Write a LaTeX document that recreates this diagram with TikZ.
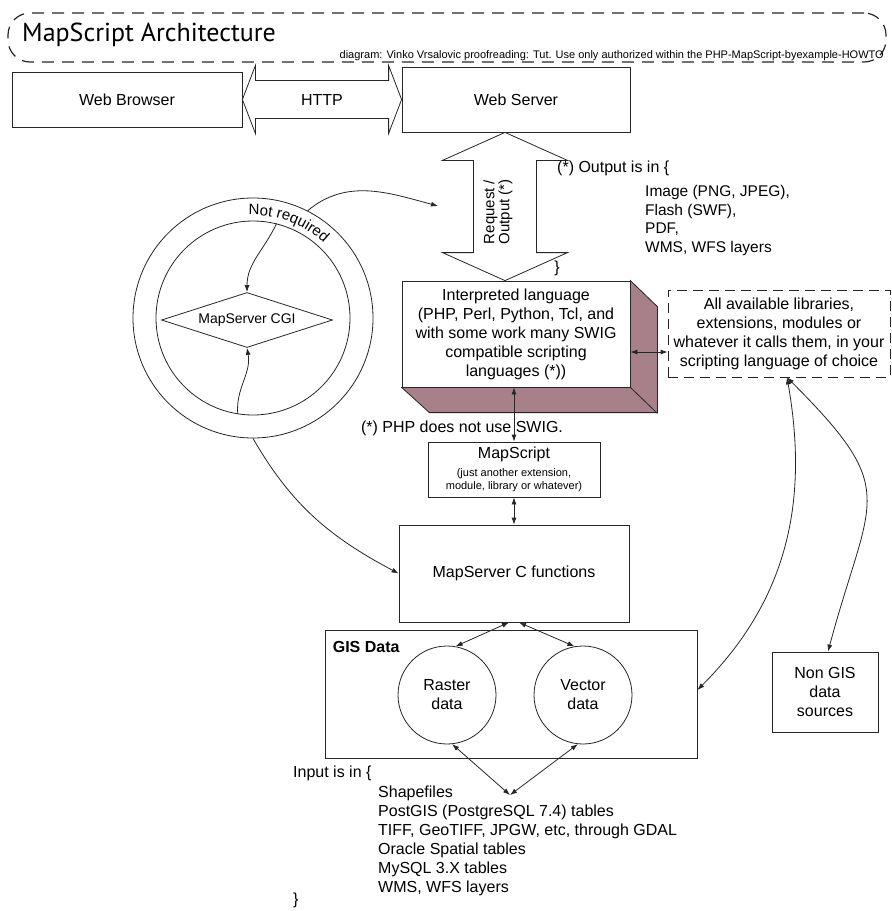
\documentclass[tikz,border=0pt]{standalone}
\usepackage{fontspec}
\setmainfont{Liberation Sans}
\newfontfamily\titlefont{PT Sans}
\usepackage{tikz}
\usetikzlibrary{positioning,calc,arrows.meta,shapes.geometric,decorations.text}
\definecolor{mauve}{RGB}{168,128,138}
\tikzset{box/.style={draw=black!85, line width=0.8pt, fill=white, align=center, inner sep=2pt}}
\tikzset{dbox/.style={box, dash pattern=on 10pt off 6pt}}
\tikzset{banner/.style={draw=black!85, line width=1.2pt, rounded corners=22pt, dash pattern=on 12pt off 8pt}}
\tikzset{blob/.style={circle, draw=black!85, line width=0.8pt, align=center, inner sep=0pt}}
\tikzset{slabface/.style={fill=mauve, draw=black!85, line width=0.8pt}}
\tikzset{blockarr/.style={draw=black!85, line width=0.8pt, fill=white}}
\tikzset{arr/.style={draw=black!85, line width=0.8pt, ->}}
\tikzset{darr/.style={draw=black!85, line width=0.8pt, <->}}
\newcommand\bodyfont{\fontsize{16}{19}\selectfont}
\newcommand\notefont{\fontsize{11}{13}\selectfont}
\newcommand\creditfont{\fontsize{11}{13}\selectfont}
% double block arrows: [opts]{tip}{tip}{shaft half}{head half}{head length}
\newcommand\hblockarr[6][]{
	\draw[blockarr, #1] (#2) -- ($(#2)+(#6,#5)$) -- ($(#2)+(#6,#4)$) -- ($(#3)+(-#6,#4)$)
		-- ($(#3)+(-#6,#5)$) -- (#3) -- ($(#3)+(-#6,-#5)$) -- ($(#3)+(-#6,-#4)$)
		-- ($(#2)+(#6,-#4)$) -- ($(#2)+(#6,-#5)$) -- cycle;
	}
\newcommand\vblockarr[6][]{
	\draw[blockarr, #1] (#2) -- ($(#2)+(#5,-#6)$) -- ($(#2)+(#4,-#6)$) -- ($(#3)+(#4,#6)$)
		-- ($(#3)+(#5,#6)$) -- (#3) -- ($(#3)+(-#5,#6)$) -- ($(#3)+(-#4,#6)$)
		-- ($(#2)+(-#4,-#6)$) -- ($(#2)+(-#5,-#6)$) -- cycle;
	}

\begin{document}
\begin{tikzpicture}[x=1pt, y=1pt, font=\bodyfont, >={Latex[length=7pt,width=5pt]}]
	\useasboundingbox (0,0) rectangle (892,-911);

	% heading strip
	\node[banner, minimum width=878, minimum height=49] (banner) at (447,-37.5) {};
	\node[anchor=base west, inner sep=0, font=\titlefont\fontsize{26}{30}\selectfont] (title) at (22,-41) {MapScript Architecture};
	\node[anchor=base east, inner sep=0, font=\creditfont] (credit) at (884,-58) {diagram: Vinko Vrsalovic proofreading: Tut. Use only authorized within the PHP-MapScript-byexample-HOWTO};

	\node[box, minimum width=230, minimum height=55] (browser) at (127,-99.5) {Web Browser};
	\node[box, minimum width=228, minimum height=65] (server) at (516,-99.5) {Web Server};
	\hblockarr{browser.east}{server.west}{19}{34}{13}
	\node (http) at ($(browser.east)!0.5!(server.west)$) {HTTP};

	\node[box, minimum width=228, minimum height=106] (interp) at (516,-334)
		{Interpreted language\\(PHP, Perl, Python, Tcl, and\\with some work many SWIG\\compatible scripting\\languages (*))};
	\path[slabface] (interp.north east) -- ++(27,-26) -- ++(0,-106) -- ++(-228,0)
		-- (interp.south west) -- (interp.south east) -- cycle;
	\draw[black!85, line width=0.8pt] (interp.south east) -- ++(27,-26);

	\coordinate (reqtop) at ([xshift=-11]server.south);
	\coordinate (reqbot) at ([xshift=-11]interp.north);
	\vblockarr{reqtop}{reqbot}{31.5}{62.5}{28}
	\node[rotate=90, align=center, font=\fontsize{15}{13}\selectfont] (req) at (498,-212) {Request /\\Output (*)};

	\node[anchor=west, inner sep=0] (outnote) at (557,-168) {(*) Output is in \{};
	\node[anchor=west, inner sep=0, align=left, font=\fontsize{15.5}{18.5}\selectfont] (outlist) at (645,-220.5)
		{Image (PNG, JPEG),\\Flash (SWF),\\PDF,\\WMS, WFS layers};
	\node[inner sep=0] (outend) at (557,-268) {\}};

	\node[dbox, minimum width=222, minimum height=87] (libs) at (779,-333.5)
		{All available libraries,\\extensions, modules or\\whatever it calls them, in your\\scripting language of choice};
	\draw[darr] ([yshift=-18]interp.east) -- ([yshift=-18.5]libs.west);

	\node[inner sep=0] (phpnote) at (462,-428) {(*) PHP does not use SWIG.};
	\node[box, minimum width=172, minimum height=55] (mapscript) at (514,-469.5)
		{MapScript\\[-1pt]\notefont (just another extension,\\[-6pt]\notefont module, library or whatever)};
	\draw[darr] (mapscript.north |- interp.south) -- (mapscript.north);

	\node[box, minimum width=230, minimum height=97] (cfun) at (514,-573.5) {MapServer C functions};
	\draw[darr] (mapscript.south) -- (cfun.north);

	\node[box, minimum width=372, minimum height=128] (gis) at (511,-694) {};
	\node[anchor=west, inner sep=0, font=\bodyfont\bfseries] (gislabel) at ([xshift=8,yshift=-17]gis.north west) {GIS Data};
	\node[blob, minimum size=98] (raster) at (447,-695) {Raster\\data};
	\node[blob, minimum size=98] (vector) at (583,-695) {Vector\\data};
	\draw[darr] ([xshift=-5]cfun.south) -- (raster.80);
	\draw[darr] ([xshift=5]cfun.south) -- (vector.100);

	\coordinate (feed) at (510,-795);
	\draw[darr] (raster.-84) -- (feed);
	\draw[darr] (vector.-96) -- (feed);

	\node[anchor=west, inner sep=0] (innote) at (293,-773) {Input is in \{};
	\node[anchor=west, inner sep=0, align=left] (inlist) at (378,-841)
		{Shapefiles\\PostGIS (PostgreSQL 7.4) tables\\TIFF, GeoTIFF, JPGW, etc, through GDAL\\Oracle Spatial tables\\MySQL 3.X tables\\WMS, WFS layers};
	\node[anchor=west, inner sep=0] (inend) at (293,-900) {\}};

	% the optional CGI ring
	\node[blob, minimum size=240] (ring) at (253,-318) {};
	\node[blob, minimum size=194] (cgizone) at (253,-318) {};
	\node[diamond, draw=black!85, line width=0.8pt, aspect=3.1, inner sep=0, minimum width=171, minimum height=55,
		font=\fontsize{14}{16}\selectfont] (cgi) at (247,-320) {MapServer CGI};
	\path[decorate, decoration={text along path, text align=center, text={|\fontsize{15}{18}\selectfont|Not required}}]
		($(ring.center)+(101:103)$) arc[start angle=101, end angle=38, radius=103];

	\coordinate (reqin) at (438,-206);
	\draw[arr] (ring.63) to[out=40, in=165] (reqin);
	\draw[arr] (cgizone.76) to[out=-115, in=90] (cgi.north);
	\draw[arr] (cgizone.-99) to[out=95, in=-80] (cgi.south);
	\draw[arr] (ring.-90) to[out=-60, in=152] (cfun.west);

	\node[box, minimum width=106, minimum height=80] (nongis) at (825,-692) {Non GIS\\data\\sources};
	\coordinate (libsout) at ([xshift=8]libs.south);
	\draw[darr] (libsout) to[out=-80, in=45] ([yshift=4]gis.east);
	\draw[darr] (libsout) to[out=-45, in=75, looseness=1.5] ([xshift=3]nongis.north);
\end{tikzpicture}
\end{document}
